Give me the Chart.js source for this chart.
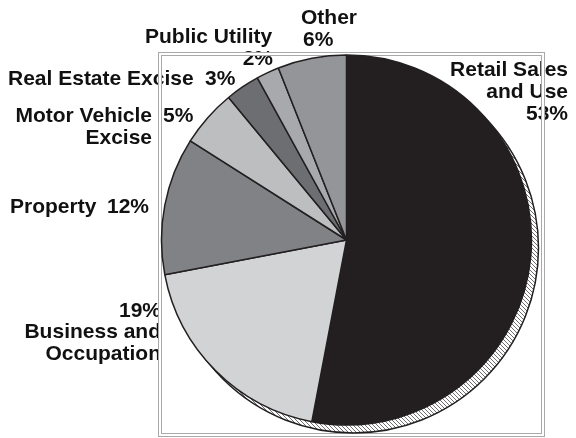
<!DOCTYPE html>
<html lang="en">
<head>
<meta charset="UTF-8">
<script src="https://cdn.jsdelivr.net/npm/chart.js"></script>
<style>
  body { margin: 0; background: #fff; }
  #wrap { width: 576px; height: 438px; }
</style>
</head>
<body>
<div id="wrap"><canvas id="taxPie" width="576" height="438"></canvas></div>
<script>
// revenue sources, clockwise from 12 o'clock
const categories = ['Retail Sales and Use', 'Business and Occupation', 'Property',
  'Motor Vehicle Excise', 'Real Estate Excise', 'Public Utility', 'Other'];
const nameLines = [['Retail Sales', 'and Use'], ['Business and', 'Occupation'], ['Property'],
  ['Motor Vehicle', 'Excise'], ['Real Estate Excise'], ['Public Utility'], ['Other']];
const shares = [53, 19, 12, 5, 3, 2, 6];
const sliceColors = ['#231f20', '#d1d3d4', '#808285', '#bcbec0', '#6d6e71', '#a7a9ac', '#939598'];

// where each name block and percent goes: [x, baseline y, align]
const labelSpots = [
  { name: [568, 76, 'right'], pct: [568, 120, 'right'] },
  { name: [161, 338, 'right'], pct: [161, 317, 'right'] },
  { name: [10, 213, 'left'], pct: [107, 213, 'left'] },
  { name: [152, 122, 'right'], pct: [163, 122, 'left'] },
  { name: [8, 85, 'left'], pct: [205, 85, 'left'] },
  { name: [145, 43, 'left'], pct: [273, 65, 'right'] },
  { name: [301, 24, 'left'], pct: [303, 46, 'left'] }
];

function hatchPattern(ctx) {
  const c = document.createElement('canvas');
  c.width = 4; c.height = 4;
  const p = c.getContext('2d');
  p.fillStyle = '#fff';
  p.fillRect(0, 0, 4, 4);
  p.strokeStyle = '#6f6f6f';
  p.lineWidth = 1;
  p.beginPath();
  p.moveTo(-1, -1); p.lineTo(5, 5);
  p.moveTo(-1, 3); p.lineTo(1, 5);
  p.moveTo(3, -1); p.lineTo(5, 1);
  p.stroke();
  return ctx.createPattern(c, 'repeat');
}

const backdrop = {
  id: 'backdrop',
  beforeDatasetsDraw(chart) {
    const ctx = chart.ctx;
    ctx.save();

    // labels
    ctx.fillStyle = '#111';
    ctx.font = 'bold 21px "Liberation Sans", Arial, sans-serif';
    ctx.textBaseline = 'alphabetic';
    labelSpots.forEach((s, i) => {
      ctx.textAlign = s.name[2];
      nameLines[i].forEach((line, k) => ctx.fillText(line, s.name[0], s.name[1] + k * 21.5));
      ctx.textAlign = s.pct[2];
      ctx.fillText(shares[i] + '%', s.pct[0], s.pct[1]);
    });

    // double frame
    ctx.strokeStyle = '#fff';
    ctx.lineWidth = 3;
    ctx.strokeRect(160, 54, 383, 381);
    ctx.strokeStyle = '#a9a9a9';
    ctx.lineWidth = 1;
    ctx.strokeRect(158.5, 52.5, 386, 384);
    ctx.strokeRect(161.5, 55.5, 380, 378);

    // hatched drop shadow behind the pie
    const arc = chart.getDatasetMeta(0).data[0];
    ctx.beginPath();
    ctx.arc(arc.x + 7, arc.y + 8, arc.outerRadius, 0, Math.PI * 2);
    ctx.fillStyle = hatchPattern(ctx);
    ctx.fill();
    ctx.strokeStyle = '#231f20';
    ctx.lineWidth = 1.5;
    ctx.stroke();
    ctx.restore();
  }
};

new Chart(document.getElementById('taxPie'), {
  type: 'pie',
  data: {
    labels: categories,
    datasets: [{
      data: shares,
      backgroundColor: sliceColors,
      borderColor: '#231f20',
      borderWidth: 1.5,
      hoverOffset: 0
    }]
  },
  options: {
    responsive: false,
    animation: false,
    radius: 185,
    layout: { padding: { left: 140, right: 23, top: 50, bottom: 8 } },
    plugins: {
      legend: { display: false },
      tooltip: { enabled: false }
    }
  },
  plugins: [backdrop]
});
</script>
</body>
</html>
